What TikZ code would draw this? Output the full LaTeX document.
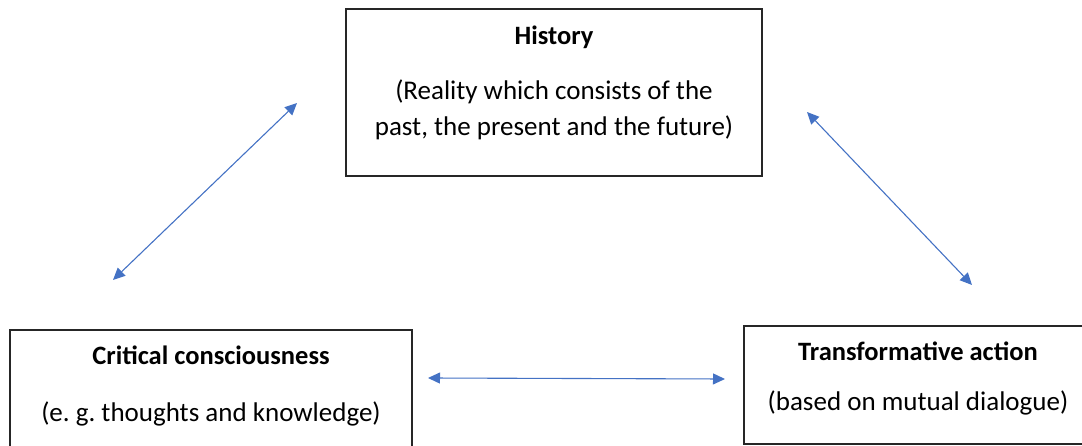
\documentclass[tikz,border=0pt]{standalone}
\usepackage{fontspec}
\setmainfont{Carlito}
\usetikzlibrary{arrows.meta}
\definecolor{arrowblue}{HTML}{4472C4}
\frenchspacing
\begin{document}
\begin{tikzpicture}[x=1pt,y=-1pt,
  box/.style={draw=black!85, line width=1.3pt, minimum width=#1, inner sep=0pt},
  ttl/.style={font=\fontsize{26.5}{30}\selectfont\bfseries, inner sep=0pt, anchor=base},
  sub/.style={font=\fontsize{27}{36}\selectfont, inner sep=0pt, align=center, anchor=base},
  link/.style={draw=arrowblue, line width=1.1pt, {Triangle[length=12pt,width=11pt]}-{Triangle[length=12pt,width=11pt]}}]
\useasboundingbox (0,0) rectangle (1082,446);
\node[box=416pt, minimum height=167pt] (hist) at (554,92.5) {};
\node[box=402pt, minimum height=118pt] (crit) at (211,389) {};
\node[box=348pt, minimum height=118pt] (trans) at (918,385) {};
\node[ttl] (histT) at (554,45) {History};
\node[sub] (histS) at (554,136) {(Reality which consists of the\\past, the present and the future)};
\node[ttl] (critT) at (211,365) {Critical consciousness};
\node[sub] (critS) at (211,421) {(e. g. thoughts and knowledge)};
\node[ttl] (transT) at (918,361) {Transformative action};
\node[sub] (transS) at (918,410) {(based on mutual dialogue)};
\coordinate (a1) at (113,280);
\coordinate (a2) at (297,103);
\coordinate (b1) at (807,112);
\coordinate (b2) at (972,285);
\coordinate (c1) at (428,378);
\coordinate (c2) at (725,379);
\draw[link] (a1) -- (a2);
\draw[link] (b1) -- (b2);
\draw[link] (c1) -- (c2);
\end{tikzpicture}
\end{document}
